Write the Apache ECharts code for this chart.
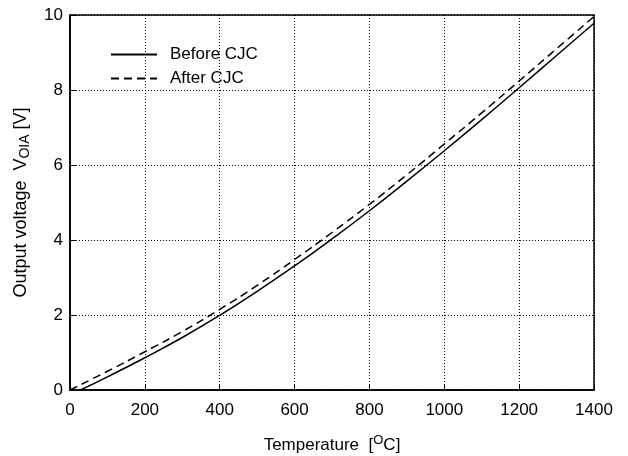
<!DOCTYPE html>
<html>
<head>
<meta charset="utf-8">
<script src="https://cdn.jsdelivr.net/npm/echarts@6/dist/echarts.min.js"></script>
<style>
  html, body { margin: 0; padding: 0; background: #fff; }
  #chart { width: 628px; height: 456px; }
</style>
</head>
<body>
<div id="chart"></div>
<script>
// temperatures in deg C, output in V
var beforeTemps = [28, 100, 200, 300, 400, 500, 600, 700, 800, 900, 1000, 1100, 1200, 1300, 1400];
var beforeVolts = [0, 0.35, 0.86, 1.40, 1.99, 2.63, 3.31, 4.03, 4.78, 5.57, 6.38, 7.21, 8.06, 8.92, 9.78];

var afterTemps = [0, 100, 200, 300, 400, 500, 600, 700, 800, 900, 1000, 1100, 1200, 1300, 1400];
var afterVolts = [0, 0.50, 1.02, 1.56, 2.15, 2.79, 3.48, 4.20, 4.95, 5.74, 6.56, 7.39, 8.24, 9.10, 9.96];

var seriesNames = ['Before CJC', 'After CJC'];

function pairs(xs, ys) {
    var out = [];
    for (var i = 0; i < xs.length; i++) {
        out.push([xs[i], ys[i]]);
    }
    return out;
}

var font = 'Liberation Sans, Arial, sans-serif';

var myChart = echarts.init(document.getElementById('chart'));

myChart.setOption({
    animation: false,
    backgroundColor: '#fff',
    grid: {
        left: 70,
        top: 15,
        right: 34,
        bottom: 66,
        outerBoundsMode: 'none',
        show: true,
        borderColor: '#000',
        borderWidth: 1.5
    },
    legend: {
        orient: 'vertical',
        left: 105,
        top: 41,
        itemWidth: 46,
        itemHeight: 18,
        itemGap: 7,
        itemStyle: { opacity: 0 },
        textStyle: { fontFamily: font, fontSize: 17, color: '#000', padding: [0, 0, 0, 8] },
        data: seriesNames
    },
    xAxis: {
        type: 'value',
        min: 0,
        max: 1400,
        interval: 200,
        name: 'Temperature  [{sup|O}C]',
        nameLocation: 'middle',
        nameGap: 44,
        nameTextStyle: {
            fontFamily: font, fontSize: 17, color: '#000',
            rich: {
                sup: { fontFamily: font, fontSize: 13, color: '#000', verticalAlign: 'top', padding: [0, 0, 10, 0] }
            }
        },
        axisLine: { show: true, lineStyle: { color: '#000', width: 1.5 } },
        axisTick: { show: true, inside: true, length: 6, lineStyle: { color: '#000' } },
        axisLabel: {
            fontFamily: font, fontSize: 17, color: '#000', margin: 12,
            formatter: function (v) { return String(v); }
        },
        splitLine: { show: true, lineStyle: { color: '#000', width: 1, type: [1, 2] } }
    },
    yAxis: {
        type: 'value',
        min: 0,
        max: 10,
        interval: 2,
        name: 'Output voltage  V{sub|OIA} [V]',
        nameLocation: 'middle',
        nameGap: 38,
        nameTextStyle: {
            fontFamily: font, fontSize: 18, color: '#000',
            rich: {
                sub: { fontFamily: font, fontSize: 14, color: '#000', padding: [8, 0, 0, 0] }
            }
        },
        axisLine: { show: true, lineStyle: { color: '#000', width: 1.5 } },
        axisTick: { show: true, inside: true, length: 6, lineStyle: { color: '#000' } },
        axisLabel: { fontFamily: font, fontSize: 17, color: '#000', margin: 7 },
        splitLine: { show: true, lineStyle: { color: '#000', width: 1, type: [1, 2] } }
    },
    series: [
        {
            name: seriesNames[0],
            type: 'line',
            smooth: true,
            symbol: 'none',
            lineStyle: { color: '#000', width: 1.5, type: 'solid' },
            itemStyle: { color: '#000' },
            data: pairs(beforeTemps, beforeVolts)
        },
        {
            name: seriesNames[1],
            type: 'line',
            smooth: true,
            symbol: 'none',
            lineStyle: { color: '#000', width: 1.5, type: [8, 5] },
            itemStyle: { color: '#000' },
            data: pairs(afterTemps, afterVolts)
        }
    ]
});
</script>
</body>
</html>
